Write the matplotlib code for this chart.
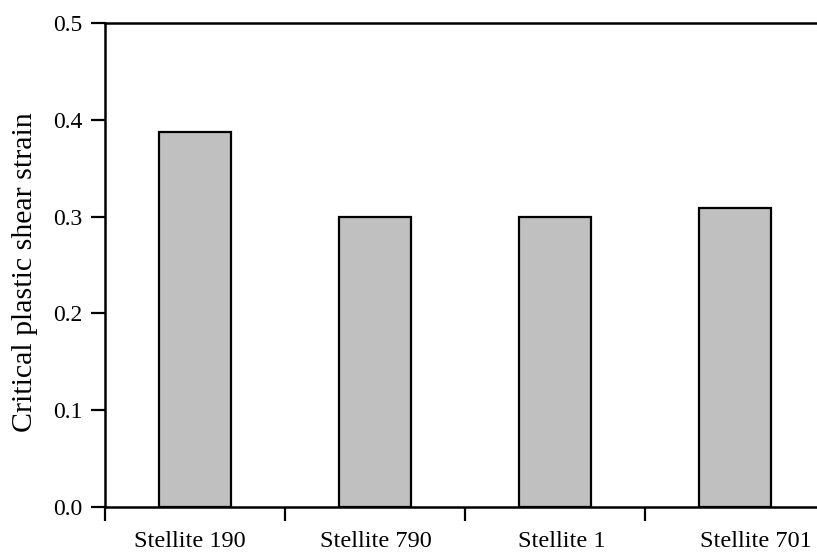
import matplotlib
matplotlib.use('Agg')
import matplotlib.pyplot as plt
import numpy as np

alloys = ['Stellite 190', 'Stellite 790', 'Stellite 1', 'Stellite 701']
strain = [0.387, 0.300, 0.300, 0.309]

plt.rcParams['font.family'] = ['Liberation Serif', 'DejaVu Serif']

fig = plt.figure(figsize=(8.17, 5.52), dpi=100)
# axes run slightly past the right edge, so no right spine is shown
ax = fig.add_axes([105 / 817, 45 / 552, 720 / 817, 484 / 552])

x = np.arange(len(alloys))
ax.bar(x, strain, width=0.4, color='#c0c0c0', edgecolor='black', linewidth=1.6)

ax.set_xlim(-0.5, len(alloys) - 0.5)
ax.set_ylim(0, 0.5)
yt = np.arange(0, 0.51, 0.1)
ax.set_yticks(yt)
ax.set_yticklabels([f'{v:.1f}' for v in yt])

# category names sit a little right of the bar centres, drifting further out
label_shift = np.array([-0.03, 0.005, 0.04, 0.115])
ax.set_xticks(x + label_shift)
ax.set_xticklabels(alloys)
ax.set_xticks(np.arange(-0.5, len(alloys), 1.0), minor=True)

ax.tick_params(axis='x', which='major', length=0, pad=17, labelsize=17.5)
ax.tick_params(axis='x', which='minor', length=10, width=1.6, direction='out')
ax.tick_params(axis='y', length=10, width=1.6, direction='out', labelsize=17, pad=6)

for s in ax.spines.values():
    s.set_linewidth(1.8)
ax.set_ylabel('Critical plastic shear strain', fontsize=21.5)
ax.yaxis.set_label_coords(-0.0925, 0.485)

fig.savefig('out.png', dpi=100)
